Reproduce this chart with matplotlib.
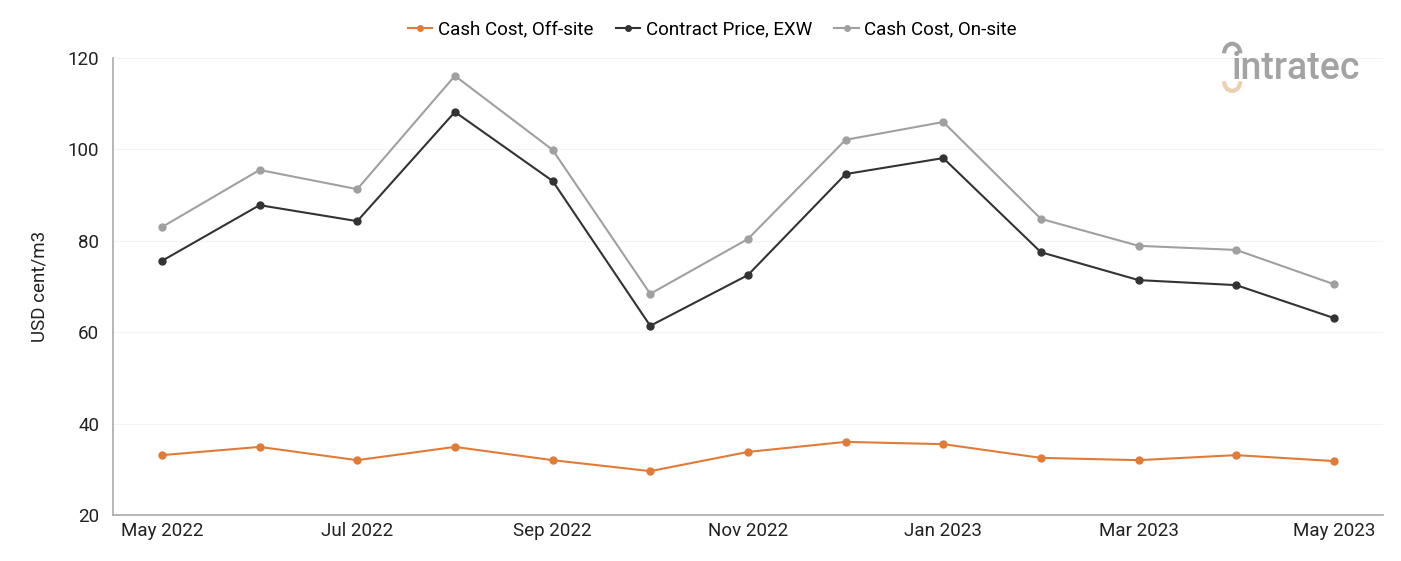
import matplotlib.pyplot as plt
from matplotlib.patches import Arc

plt.rcParams['font.family'] = ['Roboto', 'DejaVu Sans']

months = ['May 2022', 'Jun 2022', 'Jul 2022', 'Aug 2022', 'Sep 2022', 'Oct 2022',
          'Nov 2022', 'Dec 2022', 'Jan 2023', 'Feb 2023', 'Mar 2023', 'Apr 2023', 'May 2023']
off_site = [33.1, 34.9, 32.0, 34.9, 32.0, 29.6, 33.8, 36.0, 35.5, 32.5, 32.0, 33.1, 31.8]
contract = [75.6, 87.8, 84.3, 108.2, 93.1, 61.4, 72.5, 94.6, 98.1, 77.5, 71.4, 70.3, 63.1]
on_site = [83.0, 95.5, 91.3, 116.1, 99.9, 68.4, 80.4, 102.1, 106.0, 84.8, 78.9, 78.0, 70.5]

fig = plt.figure(figsize=(14.01, 5.61), dpi=100)
ax = fig.add_axes([0.0807, 0.082, 0.9063, 0.8146])

x = range(len(months))
ax.plot(x, off_site, color='#E07B39', lw=1.5, marker='o', ms=5, label='Cash Cost, Off-site')
ax.plot(x, contract, color='#333333', lw=1.5, marker='o', ms=5, label='Contract Price, EXW')
ax.plot(x, on_site, color='#A0A0A0', lw=1.5, marker='o', ms=5, label='Cash Cost, On-site')

ax.set_xlim(-0.5, 12.5)
ax.set_ylim(20, 120)
ax.set_yticks([20, 40, 60, 80, 100, 120])
ax.set_xticks(list(x)[::2])
ax.set_xticklabels(months[::2])
ax.tick_params(axis='both', length=0, labelsize=13.5, colors='#222222')
ax.tick_params(axis='x', pad=5)
ax.tick_params(axis='y', pad=10)
ax.set_ylabel('USD cent/m3', fontsize=13.5, color='#222222', labelpad=14)

ax.grid(axis='y', color='#f3f3f3', lw=0.8)
ax.set_axisbelow(True)
for s in ['top', 'right']:
    ax.spines[s].set_visible(False)
for s in ['left', 'bottom']:
    ax.spines[s].set_color('#aaaaaa')
    ax.spines[s].set_linewidth(1.2)

ax.legend(loc='lower center', bbox_to_anchor=(0.472, 1.005), ncol=3, frameon=False,
          fontsize=13.5, handlelength=1.3, handletextpad=0.3, columnspacing=1.2,
          markerscale=0.8)

# logo
fig.text(0.879, 0.878, 'intratec', fontsize=27, color='#a3a3a3', ha='left', va='center',
         fontweight='medium')
fig.add_artist(Arc((0.8795, 0.905), 0.0115, 0.034, theta1=0, theta2=180,
                   transform=fig.transFigure, color='#a3a3a3', lw=3))
fig.add_artist(Arc((0.8795, 0.855), 0.0115, 0.034, theta1=180, theta2=360,
                   transform=fig.transFigure, color='#ebcfb0', lw=3))

fig.savefig('out.png', dpi=100, facecolor='white')
